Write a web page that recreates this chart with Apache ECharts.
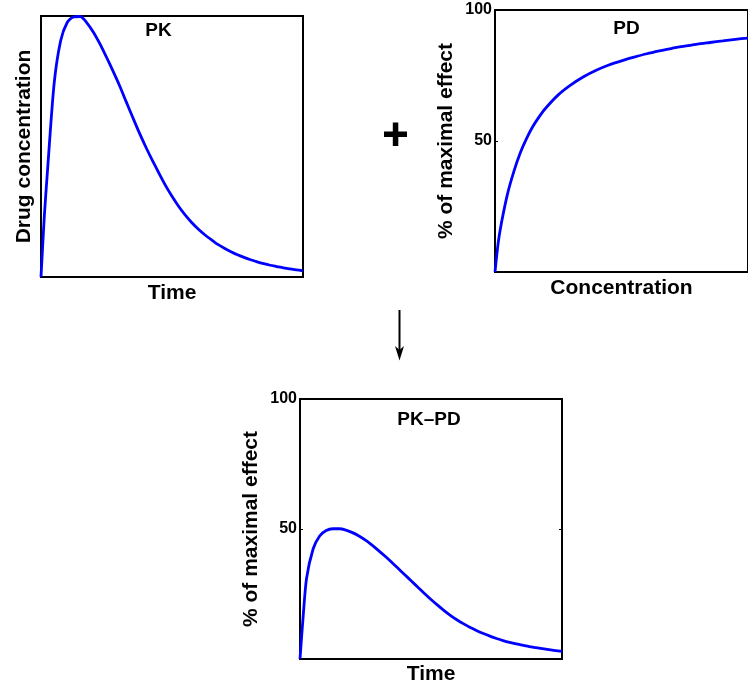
<!DOCTYPE html>
<html>
<head>
<meta charset="utf-8">
<script src="https://cdn.jsdelivr.net/npm/echarts@6/dist/echarts.min.js"></script>
<style>
  html, body { margin: 0; padding: 0; background: #fff; }
  #chart { width: 748px; height: 686px; }
</style>
</head>
<body>
<div id="chart"></div>
<script>
// PK: drug concentration over time (normalised so the peak is 1)
const pkTime = [0, 0.125, 0.25, 0.5, 0.75, 1.0, 1.25, 1.5, 1.75, 2.0, 2.25, 2.5, 2.75, 3.0, 3.25, 3.5, 3.75, 4.0, 4.25, 4.5, 4.75, 5.0,
  5.25, 5.5, 5.75, 6.0, 6.25, 6.5, 6.75, 7.0, 7.25, 7.5, 7.75, 8.0, 8.25, 8.5, 8.75, 9.0, 9.25, 9.5, 9.75, 10.0];
const pkConc = [0, 0.23, 0.41, 0.74, 0.905, 0.975, 0.997, 0.998, 0.974, 0.938, 0.893, 0.842, 0.789, 0.733, 0.672, 0.612, 0.553, 0.498, 0.447, 0.398, 0.351, 0.309,
  0.271, 0.238, 0.209, 0.184, 0.162, 0.143, 0.125, 0.110, 0.097, 0.085, 0.075, 0.066, 0.058, 0.051, 0.045, 0.040, 0.035, 0.031, 0.027, 0.024];

// PD: effect (% of maximal) against concentration
const pdConc = [0, 0.125, 0.25, 0.5, 0.75, 1.0, 1.25, 1.5, 1.75, 2.0, 2.5, 3.0, 3.5, 4.0, 4.5, 5.0, 5.5, 6.0, 6.5, 7.0, 7.5, 8.0, 8.5, 9.0, 9.5, 10.0];
const pdEffect = [0, 11, 18.5, 30, 38.5, 45.5, 51, 55.6, 59.3, 62.5, 67.6, 71.4, 74.5, 77, 79, 80.6, 82, 83.3, 84.4, 85.4, 86.2, 87, 87.6, 88.2, 88.8, 89.3];

// PK-PD: effect (% of maximal) over time
const pkpdTime = [0, 0.125, 0.25, 0.5, 0.75, 1.0, 1.25, 1.5, 1.75, 2.0, 2.25, 2.5, 2.75, 3.0, 3.25, 3.5, 3.75, 4.0, 4.25, 4.5, 4.75, 5.0,
  5.25, 5.5, 5.75, 6.0, 6.25, 6.5, 6.75, 7.0, 7.25, 7.5, 7.75, 8.0, 8.25, 8.5, 8.75, 9.0, 9.25, 9.5, 9.75, 10.0];
const pkpdEffect = [0, 17, 31, 42.3, 47.3, 49.4, 50.1, 50.1, 49.6, 48.6, 47.3, 45.7, 43.8, 41.7, 39.5, 37.2, 34.8, 32.4, 30.0, 27.6, 25.2, 22.9,
  20.7, 18.6, 16.7, 15.0, 13.5, 12.1, 10.9, 9.8, 8.8, 7.9, 7.1, 6.4, 5.8, 5.3, 4.8, 4.4, 4.0, 3.6, 3.2, 2.9];

const effectTickLabels = ['50', '100'];

const FONT = 'Liberation Sans, Arial, Helvetica, sans-serif';
const BLUE = '#0000ff';

function zip(xs, ys) { return xs.map((x, i) => [x, ys[i]]); }

const nameStyle = { fontFamily: FONT, fontWeight: 'bold', fontSize: 21, color: '#000' };
const tickLabelStyle = {
  fontFamily: FONT, fontWeight: 'bold', fontSize: 16, color: '#000', margin: 3,
  formatter: v => (effectTickLabels.indexOf(String(v)) >= 0 ? String(v) : '')
};

function hiddenX(gridIndex, max, name, gap) {
  return {
    type: 'value', gridIndex, min: 0, max,
    axisLine: { show: false }, axisTick: { show: false }, axisLabel: { show: false },
    splitLine: { show: false },
    name, nameLocation: 'middle', nameGap: gap, nameTextStyle: nameStyle
  };
}

const grids = [
  { left: 41, top: 16, width: 262, height: 261 },
  { left: 495, top: 10, width: 262, height: 262 },
  { left: 300, top: 399, width: 262, height: 262 }
].map(g => Object.assign(g, { show: true, borderColor: '#000', borderWidth: 2, backgroundColor: 'transparent', containLabel: false }));

const option = {
  animation: false,
  backgroundColor: '#fff',
  grid: grids,
  xAxis: [
    hiddenX(0, 10, 'Time', 6),
    hiddenX(1, 10, 'Concentration', 6),
    hiddenX(2, 10, 'Time', 5)
  ],
  yAxis: [
    {
      type: 'value', gridIndex: 0, min: 0, max: 1,
      axisLine: { show: false }, axisTick: { show: false }, axisLabel: { show: false },
      splitLine: { show: false },
      name: 'Drug concentration', nameLocation: 'middle', nameRotate: 90, nameGap: 6,
      nameTextStyle: nameStyle
    },
    {
      type: 'value', gridIndex: 1, min: 0, max: 100, interval: 50,
      axisLine: { show: false },
      axisTick: { show: true, inside: true, length: 3, lineStyle: { color: '#000', width: 1 } },
      axisLabel: tickLabelStyle, splitLine: { show: false },
      name: '% of maximal effect', nameLocation: 'middle', nameRotate: 90, nameGap: 38,
      nameTextStyle: nameStyle
    },
    {
      type: 'value', gridIndex: 2, min: 0, max: 100, interval: 50,
      axisLine: { show: false },
      axisTick: { show: true, inside: true, length: 3, lineStyle: { color: '#000', width: 1 } },
      axisLabel: tickLabelStyle, splitLine: { show: false },
      name: '% of maximal effect', nameLocation: 'middle', nameRotate: 90, nameGap: 38,
      nameTextStyle: nameStyle
    },
    {
      type: 'value', gridIndex: 2, position: 'right', min: 0, max: 100, interval: 50,
      axisLine: { show: false },
      axisTick: { show: true, inside: true, length: 3, lineStyle: { color: '#000', width: 1 } },
      axisLabel: { show: false }, splitLine: { show: false }
    }
  ],
  series: [
    { type: 'line', xAxisIndex: 0, yAxisIndex: 0, data: zip(pkTime, pkConc) },
    { type: 'line', xAxisIndex: 1, yAxisIndex: 1, data: zip(pdConc, pdEffect) },
    { type: 'line', xAxisIndex: 2, yAxisIndex: 2, data: zip(pkpdTime, pkpdEffect) }
  ].map(s => Object.assign(s, {
    showSymbol: false, smooth: 0.25,
    lineStyle: { color: BLUE, width: 2.8 }, itemStyle: { color: BLUE }
  })),
  graphic: [
    { type: 'text', x: 158.5, y: 31, style: { text: 'PK', font: 'bold 19px ' + FONT, align: 'center', verticalAlign: 'middle', fill: '#000' } },
    { type: 'text', x: 626.5, y: 28.5, style: { text: 'PD', font: 'bold 19px ' + FONT, align: 'center', verticalAlign: 'middle', fill: '#000' } },
    { type: 'text', x: 429, y: 420, style: { text: 'PK\u2013PD', font: 'bold 19px ' + FONT, align: 'center', verticalAlign: 'middle', fill: '#000' } },
    // plus sign between PK and PD
    { type: 'rect', shape: { x: 384, y: 131.5, width: 23, height: 5.5 }, style: { fill: '#000' } },
    { type: 'rect', shape: { x: 392.8, y: 122.5, width: 5.5, height: 23.5 }, style: { fill: '#000' } },
    // downward arrow towards PK-PD
    { type: 'line', shape: { x1: 399.5, y1: 310, x2: 399.5, y2: 352 }, style: { stroke: '#000', lineWidth: 2 } },
    { type: 'polygon', shape: { points: [[395, 346], [399.5, 360.5], [404, 346], [399.5, 350]] }, style: { fill: '#000' } }
  ]
};

const chart = echarts.init(document.getElementById('chart'), null, { renderer: 'canvas' });
chart.setOption(option);
</script>
</body>
</html>
